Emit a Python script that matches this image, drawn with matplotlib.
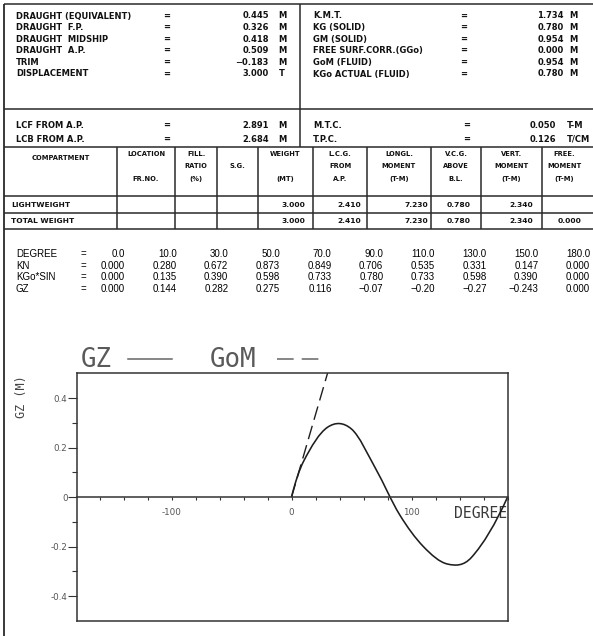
import numpy as np
import matplotlib
matplotlib.use("Agg")
import matplotlib.pyplot as plt
from matplotlib.path import Path
from matplotlib.patches import PathPatch
from matplotlib.lines import Line2D
from matplotlib.ticker import MultipleLocator, FuncFormatter

plt.rcParams["axes.unicode_minus"] = False
plt.rcParams["lines.scale_dashes"] = False

# ---------------- hydrostatic summary ----------------
left_labels = ["DRAUGHT (EQUIVALENT)", "DRAUGHT  F.P.", "DRAUGHT  MIDSHIP",
               "DRAUGHT  A.P.", "TRIM", "DISPLACEMENT"]
left_values = [0.445, 0.326, 0.418, 0.509, -0.183, 3.000]
left_units = ["M", "M", "M", "M", "M", "T"]

right_labels = ["K.M.T.", "KG (SOLID)", "GM (SOLID)", "FREE SURF.CORR.(GGo)",
                "GoM (FLUID)", "KGo ACTUAL (FLUID)"]
right_values = [1.734, 0.780, 0.954, 0.000, 0.954, 0.780]
right_units = ["M", "M", "M", "M", "M", "M"]

lc_labels = ["LCF FROM A.P.", "LCB FROM A.P."]
lc_values = [2.891, 2.684]
tc_labels = ["M.T.C.", "T.P.C."]
tc_values = [0.050, 0.126]
tc_units = ["T-M", "T/CM"]

# ---------------- loading table ----------------
col_headers = [
    ["LOCATION", "", "FR.NO."],
    ["FILL.", "RATIO", "(%)"],
    ["", "S.G.", ""],
    ["WEIGHT", "", "(MT)"],
    ["L.C.G.", "FROM", "A.P."],
    ["LONGL.", "MOMENT", "(T-M)"],
    ["V.C.G.", "ABOVE", "B.L."],
    ["VERT.", "MOMENT", "(T-M)"],
    ["FREE.", "MOMENT", "(T-M)"],
]
row_names = ["LIGHTWEIGHT", "TOTAL WEIGHT"]
weight = [3.000, 3.000]
lcg = [2.410, 2.410]
longl_moment = [7.230, 7.230]
vcg = [0.780, 0.780]
vert_moment = [2.340, 2.340]
free_moment = [None, 0.000]

# ---------------- stability table ----------------
degrees = [0.0, 10.0, 30.0, 50.0, 70.0, 90.0, 110.0, 130.0, 150.0, 180.0]
kn = [0.000, 0.280, 0.672, 0.873, 0.849, 0.706, 0.535, 0.331, 0.147, 0.000]
kgo_sin = [0.000, 0.135, 0.390, 0.598, 0.733, 0.780, 0.733, 0.598, 0.390, 0.000]
gz = [0.000, 0.144, 0.282, 0.275, 0.116, -0.07, -0.20, -0.27, -0.243, 0.000]

W, H = 593, 636
INK = "#111111"
LINE = "#2a2a2a"
fig = plt.figure(figsize=(W / 100, H / 100), dpi=100)
fig.patch.set_facecolor("white")

# sheet layer in pixel units (y downward)
sheet = fig.add_axes([0, 0, 1, 1])
sheet.set_xlim(0, W)
sheet.set_ylim(H, 0)
sheet.axis("off")


def num(v, fmt="{:.3f}"):
    return fmt.format(v).replace("-", "\u2212")


def gz_text(v):
    s = f"{v:.3f}"
    if v < 0 and s.endswith("0"):
        s = s[:-1]
    return s.replace("-", "\u2212")


def put(x, y, s, ha="left", size=6.0, weight="bold", family="DejaVu Sans",
        color=INK, **kw):
    sheet.text(x, y, s, ha=ha, va="center", fontsize=size, fontweight=weight,
               family=family, color=color, **kw)


def hline(y, x0=4, x1=W, lw=1.1):
    sheet.plot([x0, x1], [y, y], color=LINE, lw=lw, solid_capstyle="butt")


def vline(x, y0, y1, lw=1.1):
    sheet.plot([x, x], [y0, y1], color=LINE, lw=lw, solid_capstyle="butt")


# frame
hline(4)
vline(4, 4, H, lw=1.3)
vline(300, 4, 147)
hline(109)
hline(147)
for y in (196, 213, 229):
    hline(y)
col_edges = [4, 117, 175, 217, 258, 313, 367, 431, 481, 542, 586]
for x in col_edges[1:-1]:
    vline(x, 147, 229)

# hydrostatic rows
row_y = [16 + 11.6 * i for i in range(6)]
for y, lab, val, unit in zip(row_y, left_labels, left_values, left_units):
    put(16, y, lab)
    put(167, y, "=", ha="center")
    put(269, y, num(val), ha="right")
    put(282, y, unit, ha="center")
for y, lab, val, unit in zip(row_y, right_labels, right_values, right_units):
    put(313, y, lab)
    put(464, y, "=", ha="center")
    put(564, y, num(val), ha="right")
    put(573, y, unit, ha="center")

for y, lab, val in zip([125, 139], lc_labels, lc_values):
    put(16, y, lab)
    put(167, y, "=", ha="center")
    put(269, y, num(val), ha="right")
    put(282, y, "M", ha="center")
for y, lab, val, unit in zip([125, 139], tc_labels, tc_values, tc_units):
    put(313, y, lab)
    put(467, y, "=", ha="center")
    put(556, y, num(val), ha="right")
    put(567, y, unit)

# loading table header
put((col_edges[0] + col_edges[1]) / 2, 158, "COMPARTMENT", ha="center", size=4.9)
head_y = [154, 166.5, 179]
for i, lines in enumerate(col_headers):
    cx = (col_edges[i + 1] + col_edges[i + 2]) / 2
    for y, s in zip(head_y, lines):
        if s:
            put(cx, y, s, ha="center", size=4.9)

# loading table rows
value_right = [305, 361, 428, 471, 533, 581]
for r, y in enumerate([205, 221]):
    put(11, y, row_names[r], size=5.4)
    cols = [weight[r], lcg[r], longl_moment[r], vcg[r], vert_moment[r], free_moment[r]]
    for xr, v in zip(value_right, cols):
        if v is not None:
            put(xr, y, num(v), ha="right", size=5.4)

# stability table
tab_y = [254, 266, 277.5, 289.5]
tab_labels = ["DEGREE", "KN", "KGo*SIN", "GZ"]
tab_rows = [[f"{d:.1f}" for d in degrees],
            [num(v) for v in kn],
            [num(v) for v in kgo_sin],
            [gz_text(v) for v in gz]]
for y, lab, cells in zip(tab_y, tab_labels, tab_rows):
    put(16, y, lab, size=7.0, weight="normal", family="Liberation Sans", color="#000000")
    put(83, y, "=", ha="center", size=7.0, weight="normal", family="Liberation Sans",
        color="#000000")
    for i, s in enumerate(cells):
        put(125 + 51.67 * i, y, s, ha="right", size=7.0, weight="normal",
            family="Liberation Sans", color="#000000")

# ---------------- GZ curve ----------------
ax_l, ax_r, ax_t, ax_b = 77.3, 507.5, 373.3, 621.0
ax = fig.add_axes([ax_l / W, (H - ax_b) / H, (ax_r - ax_l) / W, (ax_b - ax_t) / H])
ax.patch.set_alpha(0)
ax.set_xlim(-178.5, 180)
ax.set_ylim(-0.4999, 0.4999)

AXC = "#333333"
for side in ("left", "right", "top", "bottom"):
    ax.spines[side].set_color(AXC)
    ax.spines[side].set_linewidth(1.1)
ax.spines["bottom"].set_position(("data", 0))
ax.add_line(Line2D([0, 1], [0, 0], transform=ax.transAxes, color=AXC, lw=1.1,
                   clip_on=False))

ax.xaxis.set_major_locator(MultipleLocator(100))
ax.xaxis.set_minor_locator(MultipleLocator(20))
ax.yaxis.set_major_locator(MultipleLocator(0.2))
ax.yaxis.set_minor_locator(MultipleLocator(0.1))
ax.xaxis.set_major_formatter(FuncFormatter(lambda v, _: f"{v:.0f}"))
ax.yaxis.set_major_formatter(
    FuncFormatter(lambda v, _: "0" if abs(v) < 1e-9 else f"{v:.1f}"))
ax.tick_params(axis="x", which="both", direction="out", length=2.2, width=0.8,
               color=AXC, pad=5.5, labelsize=6.3, labelcolor="#555555")
ax.tick_params(axis="y", which="major", direction="out", length=6.5, width=0.8,
               color=AXC, pad=0.5, labelsize=6.3, labelcolor="#555555")
ax.tick_params(axis="y", which="minor", direction="out", length=3.4, width=0.8,
               color=AXC)

# smooth GZ curve through the tabulated points (cubic Hermite as Bezier segments)
x = np.asarray(degrees, float)
y = np.asarray(gz, float)
m = np.empty_like(y)
m[1:-1] = (y[2:] - y[:-2]) / (x[2:] - x[:-2])
# parabolic end conditions
m[0] = 2 * (y[1] - y[0]) / (x[1] - x[0]) - m[1]
m[-1] = 2 * (y[-1] - y[-2]) / (x[-1] - x[-2]) - m[-2]
verts = [(x[0], y[0])]
codes = [Path.MOVETO]
for i in range(len(x) - 1):
    h = x[i + 1] - x[i]
    verts += [(x[i] + h / 3, y[i] + m[i] * h / 3),
              (x[i + 1] - h / 3, y[i + 1] - m[i + 1] * h / 3),
              (x[i + 1], y[i + 1])]
    codes += [Path.CURVE4] * 3
ax.add_patch(PathPatch(Path(verts, codes), fill=False, ec="#1e1e1e", lw=1.15,
                       transform=ax.transData))

# initial stability line: GoM reached at one radian of heel
gom = right_values[4]
ax.plot([0, np.degrees(1.0)], [0, gom], color="#1e1e1e", lw=1.0,
        dashes=(10, 4.5))

# labels and legend
put(454, 513, "DEGREE", size=10.6, weight="normal", family="DejaVu Sans Mono",
    color="#3a3a3a")
put(21, 397, "GZ (M)", ha="center", size=8.5, weight="normal",
    family="DejaVu Sans Mono", color="#444444", rotation=90)
put(81, 360, "GZ", size=18.5, weight="normal", family="DejaVu Sans Mono",
    color="#5a5a5a")
sheet.plot([128, 172], [359, 359], color="#666666", lw=1.1)
put(210, 360, "GoM", size=18.5, weight="normal", family="DejaVu Sans Mono",
    color="#5a5a5a")
sheet.plot([277, 319], [359, 359], color="#666666", lw=1.1, dashes=(12, 5.8))

fig.savefig("out.png", dpi=100, facecolor="white")
